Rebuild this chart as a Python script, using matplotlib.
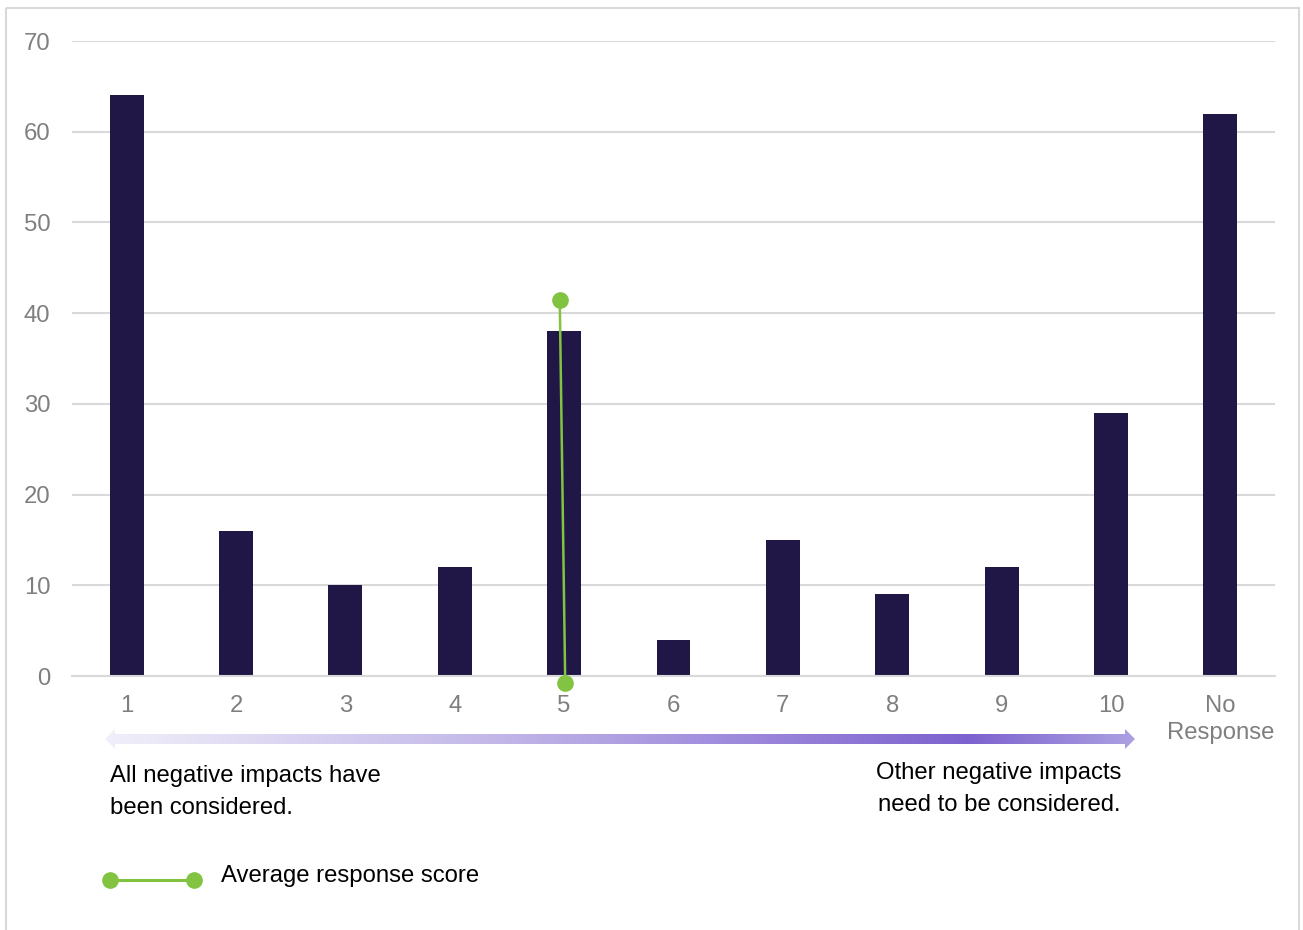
import matplotlib.pyplot as plt
import numpy as np
from matplotlib.colors import LinearSegmentedColormap
from matplotlib.patches import Polygon, Rectangle

plt.rcParams["font.family"] = ["Liberation Sans", "DejaVu Sans"]

# data
categories = ["1", "2", "3", "4", "5", "6", "7", "8", "9", "10", "No\nResponse"]
counts = [64, 16, 10, 12, 38, 4, 15, 9, 12, 29, 62]
# average response score marker line (score on the 1-10 scale, y span)
avg_x = [4.96, 5.01]
avg_y = [41.4, -0.8]
y_ticks = [0, 10, 20, 30, 40, 50, 60, 70]

bar_color = "#201747"
green = "#82C341"
grid_color = "#D9D9D9"
tick_color = "#7F7F7F"

W, H = 1303, 930
fig = plt.figure(figsize=(W / 100, H / 100), dpi=100)

# overlay in pixel coordinates for frame, arrow and notes
ov = fig.add_axes([0, 0, 1, 1], zorder=0)
ov.set_xlim(0, W)
ov.set_ylim(H, 0)
ov.axis("off")
ov.add_patch(Rectangle((6, 8), 1293, 940, fill=False, edgecolor=grid_color, linewidth=1.5))

# gradient double arrow
cy = 739
arrow = Polygon(
    [(105, cy), (115, cy - 10), (115, cy - 5), (1125, cy - 5), (1125, cy - 10),
     (1135, cy), (1125, cy + 10), (1125, cy + 5), (115, cy + 5), (115, cy + 10)],
    closed=True, facecolor="none", edgecolor="none",
)
ov.add_patch(arrow)
cmap = LinearSegmentedColormap.from_list(
    "arr", [(0, "#F1EFFA"), (0.38, "#C2B7E8"), (0.6, "#A08CDD"), (0.84, "#7C62CE"), (1.0, "#ACA0E2")]
)
grad = np.linspace(0, 1, 512).reshape(1, -1)
im = ov.imshow(grad, extent=(105, 1135, cy + 11, cy - 11), cmap=cmap, aspect="auto", interpolation="bilinear")
im.set_clip_path(arrow)
ov.set_xlim(0, W)
ov.set_ylim(H, 0)

ov.text(110, 792, "All negative impacts have\nbeen considered.", fontsize=17.2, ha="left", va="center",
        linespacing=1.6, color="black")
ov.text(999, 789, "Other negative impacts\nneed to be considered.", fontsize=17.2, ha="center", va="center",
        linespacing=1.6, color="black")

# legend
ov.plot([110, 194], [880, 880], color=green, linewidth=2.2, marker="o", markersize=11)
ov.text(221, 876, "Average response score", fontsize=17.2, ha="left", va="center", color="black")

# main chart
ax = fig.add_axes([72 / W, 1 - 676 / H, (1275 - 72) / W, (676 - 41) / H], zorder=1)
ax.set_facecolor("none")
x = np.arange(len(categories))
ax.bar(x, counts, width=0.31, color=bar_color, zorder=2)
ax.plot(np.array(avg_x) - 1, avg_y, color=green, linewidth=1.8, marker="o", markersize=11,
        zorder=3, clip_on=False)

ax.set_xlim(-0.5, len(categories) - 0.5)
ax.set_ylim(0, 70)
ax.set_yticks(y_ticks)
ax.set_xticks(x)
ax.set_xticklabels(categories)
ax.yaxis.grid(True, color=grid_color, linewidth=1.5, zorder=0)
ax.set_axisbelow(True)
for s in ["top", "right", "left"]:
    ax.spines[s].set_visible(False)
ax.spines["bottom"].set_color(grid_color)
ax.spines["bottom"].set_linewidth(1.5)
ax.tick_params(axis="y", length=0, pad=15.5, labelsize=17.2, labelcolor=tick_color)
ax.tick_params(axis="x", length=0, pad=14, labelsize=17.2, labelcolor=tick_color)
for lab in ax.get_xticklabels():
    lab.set_linespacing(1.25)

fig.savefig("out.png", dpi=100)
